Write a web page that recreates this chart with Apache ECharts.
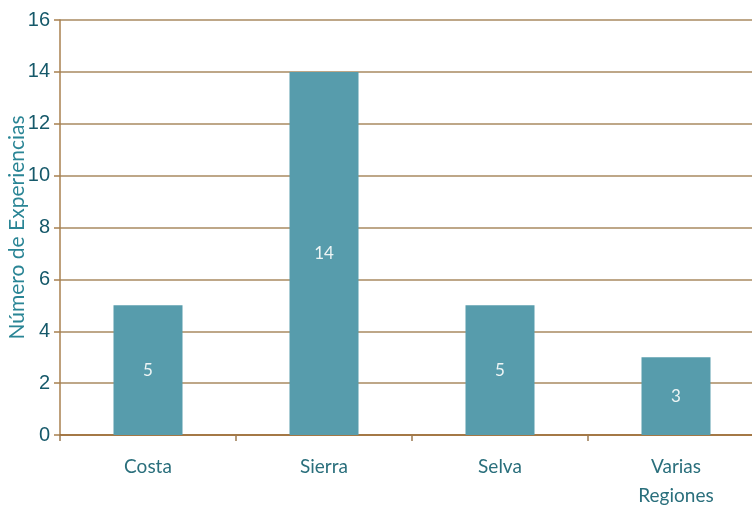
<!DOCTYPE html>
<html><head><meta charset="utf-8">
<script src="https://cdn.jsdelivr.net/npm/echarts@6/dist/echarts.min.js"></script>
<style>html,body{margin:0;padding:0;background:#fff}#c{width:752px;height:507px}</style>
</head><body><div id="c"></div>
<script>
const categories = ['Costa', 'Sierra', 'Selva', 'Varias\nRegiones'];
const values = [5, 14, 5, 3];
const yTitle = 'Número de Experiencias';

const chart = echarts.init(document.getElementById('c'), null, {renderer: 'canvas'});
chart.setOption({
  animation: false,
  grid: {left: 60, top: 20, width: 704, bottom: 72, containLabel: false, outerBoundsMode: 'none'},
  xAxis: {
    type: 'category', data: categories,
    axisLine: {lineStyle: {color: '#9c6a30', width: 1.5}},
    axisTick: {show: true, length: 6, inside: false, lineStyle: {color: '#9c7a50', width: 1.5}},
    axisLabel: {color: '#2a6f7c', fontSize: 19, fontFamily: 'Lato', margin: 17, lineHeight: 29}
  },
  yAxis: {
    type: 'value', min: 0, max: 16, interval: 2,
    name: yTitle, nameLocation: 'middle', nameGap: 32, nameMoveOverlap: false,
    nameTextStyle: {color: '#2a8595', fontSize: 21, fontFamily: 'Lato'},
    axisLine: {show: true, lineStyle: {color: '#a8804f', width: 1.5}},
    axisTick: {show: true, length: 6, lineStyle: {color: '#a8804f', width: 1.5}},
    axisLabel: {color: '#16596a', fontSize: 20, fontFamily: 'Liberation Sans', margin: 10},
    splitLine: {lineStyle: {color: '#a88a60', width: 1.5}}
  },
  series: [{
    type: 'bar', data: values, barWidth: 69,
    itemStyle: {color: '#579cac'},
    label: {show: true, position: 'inside', color: '#eef5f5', fontSize: 17, fontFamily: 'Lato'}
  }]
});
</script></body></html>
